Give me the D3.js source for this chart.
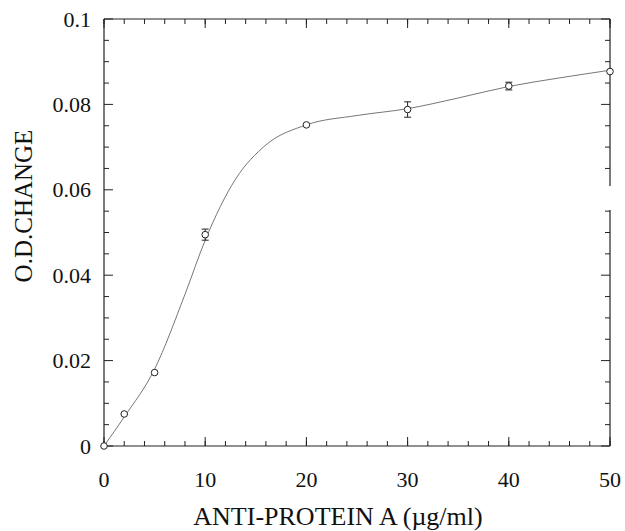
<!DOCTYPE html>
<html>
<head>
<meta charset="utf-8">
<script src="https://cdn.jsdelivr.net/npm/d3@7"></script>
<style>
  body { margin: 0; background: #fff; }
  text { font-family: "Liberation Serif", "DejaVu Serif", serif; fill: #111; }
</style>
</head>
<body>
<svg id="chart" width="625" height="531"></svg>
<script>
// measured points (ug/ml vs O.D. change) with error bar half-widths
const conc = [0, 2, 5, 10, 20, 30, 40, 50]
const odChange = [0, 0.0075, 0.0172, 0.0495, 0.0752, 0.0788, 0.0843, 0.0877]
const odErr = [0, 0, 0, 0.0013, 0, 0.0018, 0.0009, 0]

// fitted curve
const fitX = [0, 2, 5, 8, 10, 13, 16, 20, 25, 30, 35, 40, 45, 50]
const fitY = [0, 0.0068, 0.0180, 0.0355, 0.0482, 0.0625, 0.0705, 0.0752, 0.0774, 0.0790, 0.0815, 0.0842, 0.0862, 0.0880]

const xTicks = [0, 10, 20, 30, 40, 50]
const yTicks = [0, 0.02, 0.04, 0.06, 0.08, 0.1]
const yTickLabels = ['0', '0.02', '0.04', '0.06', '0.08', '0.1']

const svg = d3.select('#chart')
const L = 104, R = 610, T = 19, B = 446

const x = d3.scaleLinear().domain([0, 50]).range([L, R])
const y = d3.scaleLinear().domain([0, 0.1]).range([B, T])

const axisColor = '#222'

// frame (right side has a small break like the original)
const frame = svg.append('g').attr('stroke', axisColor).attr('stroke-width', 1.2).attr('fill', 'none')
frame.append('line').attr('x1', L).attr('x2', R).attr('y1', B).attr('y2', B)
frame.append('line').attr('x1', L).attr('x2', R).attr('y1', T).attr('y2', T)
frame.append('line').attr('x1', L).attr('x2', L).attr('y1', T).attr('y2', B)
frame.append('line').attr('x1', R).attr('x2', R).attr('y1', T).attr('y2', 186)
frame.append('line').attr('x1', R).attr('x2', R).attr('y1', 210).attr('y2', B)

// ticks pointing inward on all four sides
const xMinor = d3.range(0, 50.001, 2)
const yMinor = d3.range(0, 0.1001, 0.005)
const tk = svg.append('g').attr('stroke', axisColor).attr('stroke-width', 1)
xMinor.forEach(v => {
  tk.append('line').attr('x1', x(v)).attr('x2', x(v)).attr('y1', B).attr('y2', B - 5)
  tk.append('line').attr('x1', x(v)).attr('x2', x(v)).attr('y1', T).attr('y2', T + 5)
})
// majors at multiples of 10
xTicks.forEach(v => {
  tk.append('line').attr('x1', x(v)).attr('x2', x(v)).attr('y1', B).attr('y2', B - 9)
  tk.append('line').attr('x1', x(v)).attr('x2', x(v)).attr('y1', T).attr('y2', T + 9)
})
yMinor.forEach((v, i) => {
  const len = i % 4 === 0 ? 9 : 5
  const yy = y(v)
  tk.append('line').attr('x1', L).attr('x2', L + len).attr('y1', yy).attr('y2', yy)
  if (yy < 186 || yy > 210) tk.append('line').attr('x1', R).attr('x2', R - len).attr('y1', yy).attr('y2', yy)
})

// tick labels
svg.append('g').selectAll('text').data(xTicks).join('text')
  .attr('x', d => x(d)).attr('y', 487)
  .attr('text-anchor', 'middle').style('font-size', '22px')
  .text(d => d)
svg.append('g').selectAll('text').data(yTicks).join('text')
  .attr('x', 91).attr('y', d => y(d) + 7.5)
  .attr('text-anchor', 'end').style('font-size', '22px')
  .text((d, i) => yTickLabels[i])

// axis titles
svg.append('text').attr('x', 338).attr('y', 525)
  .attr('text-anchor', 'middle').style('font-size', '26px')
  .text('ANTI-PROTEIN A (\u00b5g/ml)')
svg.append('text')
  .attr('transform', 'translate(32,206) rotate(-90)')
  .attr('text-anchor', 'middle').style('font-size', '25px')
  .text('O.D.CHANGE')

// fitted curve
const line = d3.line().x(d => x(d[0])).y(d => y(d[1])).curve(d3.curveMonotoneX)
svg.append('path')
  .datum(fitX.map((v, i) => [v, fitY[i]]))
  .attr('d', line)
  .attr('fill', 'none').attr('stroke', '#666').attr('stroke-width', 0.9)

// error bars
const eb = svg.append('g').attr('stroke', '#222').attr('stroke-width', 1)
conc.forEach((c, i) => {
  if (!odErr[i]) return
  const cx = x(c), y1 = y(odChange[i] - odErr[i]), y2 = y(odChange[i] + odErr[i])
  eb.append('line').attr('x1', cx).attr('x2', cx).attr('y1', y1).attr('y2', y2)
  eb.append('line').attr('x1', cx - 3.5).attr('x2', cx + 3.5).attr('y1', y1).attr('y2', y1)
  eb.append('line').attr('x1', cx - 3.5).attr('x2', cx + 3.5).attr('y1', y2).attr('y2', y2)
})

// data points: open circles
svg.append('g').selectAll('circle').data(conc).join('circle')
  .attr('cx', d => x(d)).attr('cy', (d, i) => y(odChange[i]))
  .attr('r', 3.3)
  .attr('fill', '#fff').attr('stroke', '#222').attr('stroke-width', 1)
</script>
</body>
</html>
